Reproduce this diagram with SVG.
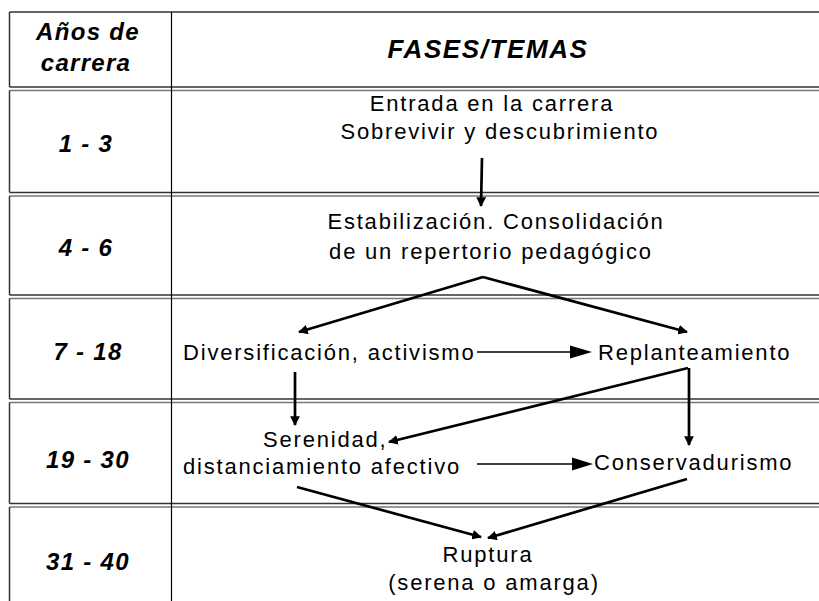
<svg xmlns="http://www.w3.org/2000/svg" width="819" height="601" viewBox="0 0 819 601">
<style>
.lab{font-family:"Liberation Sans",Arial,sans-serif;font-weight:bold;font-style:italic;font-size:24px;letter-spacing:1.3px;fill:#000;text-anchor:middle}
.hd{font-family:"Liberation Sans",Arial,sans-serif;font-weight:bold;font-style:italic;font-size:26px;letter-spacing:1.6px;fill:#000;text-anchor:middle}
.t{font-family:"Liberation Sans",Arial,sans-serif;font-size:22px;letter-spacing:1.8px;fill:#000}
.c{text-anchor:middle}
.b1{stroke:#333;stroke-width:1.5;fill:none}
.b2{stroke:#777;stroke-width:1.5;fill:none}
.a{stroke:#000;stroke-width:2.7;fill:none}
.h{stroke:#000;stroke-width:1.5;fill:none}
</style>
<defs>
<marker id="ah" viewBox="0 0 10 10" refX="9" refY="5" markerWidth="3.6" markerHeight="3.6" orient="auto" markerUnits="strokeWidth">
<path d="M0,0 L10,5 L0,10 z" fill="#000"/>
</marker>
</defs>
<g id="table">
<line class="b1" x1="9.5" y1="12" x2="819" y2="12"/>
<line class="b1" x1="9.5" y1="87" x2="819" y2="87"/>
<line class="b2" x1="9.5" y1="90.5" x2="819" y2="90.5"/>
<line class="b1" x1="9.5" y1="192.5" x2="819" y2="192.5"/>
<line class="b2" x1="9.5" y1="196" x2="819" y2="196"/>
<line class="b1" x1="9.5" y1="295" x2="819" y2="295"/>
<line class="b2" x1="9.5" y1="298.5" x2="819" y2="298.5"/>
<line class="b1" x1="9.5" y1="399" x2="819" y2="399"/>
<line class="b2" x1="9.5" y1="402.5" x2="819" y2="402.5"/>
<line class="b1" x1="9.5" y1="503.5" x2="819" y2="503.5"/>
<line class="b2" x1="9.5" y1="507" x2="819" y2="507"/>
<line class="b1" x1="9.5" y1="12" x2="9.5" y2="87"/>
<line class="b1" x1="9.5" y1="90.5" x2="9.5" y2="192.5"/>
<line class="b1" x1="9.5" y1="196" x2="9.5" y2="295"/>
<line class="b1" x1="9.5" y1="298.5" x2="9.5" y2="399"/>
<line class="b1" x1="9.5" y1="402.5" x2="9.5" y2="503.5"/>
<line class="b1" x1="9.5" y1="507" x2="9.5" y2="601"/>
<line stroke="#000" stroke-width="1.2" x1="171.5" y1="12" x2="171.5" y2="601"/>
</g>
<g id="header">
<text class="lab" x="88" y="40">Años de</text>
<text class="lab" x="86" y="71">carrera</text>
<text class="hd" x="488" y="58">FASES/TEMAS</text>
</g>
<g id="years">
<text class="lab" x="86" y="152">1 - 3</text>
<text class="lab" x="86" y="256">4 - 6</text>
<text class="lab" x="88" y="360">7 - 18</text>
<text class="lab" x="88" y="468">19 - 30</text>
<text class="lab" x="88" y="570">31 - 40</text>
</g>
<g id="n-entrada">
<text class="t c" x="492" y="111">Entrada en la carrera</text>
<text class="t c" x="500" y="139">Sobrevivir y descubrimiento</text>
</g>
<g id="n-estabilizacion">
<text class="t c" x="496" y="229">Estabilización. Consolidación</text>
<text class="t c" x="491" y="259">de un repertorio pedagógico</text>
</g>
<g id="n-diversificacion">
<text class="t" x="183" y="360">Diversificación, activismo</text>
</g>
<g id="n-replanteamiento">
<text class="t" x="598" y="360">Replanteamiento</text>
</g>
<g id="n-serenidad">
<text class="t" x="263" y="447">Serenidad,</text>
<text class="t" x="183" y="474">distanciamiento afectivo</text>
</g>
<g id="n-conservadurismo">
<text class="t" x="594" y="470">Conservadurismo</text>
</g>
<g id="n-ruptura">
<text class="t c" x="488" y="562">Ruptura</text>
<text class="t c" x="494" y="590">(serena o amarga)</text>
</g>
<g id="connectors">
<line class="a" x1="482" y1="158" x2="481" y2="206" marker-end="url(#ah)"/>
<line class="a" x1="483" y1="277" x2="687" y2="332" marker-end="url(#ah)"/>
<line class="a" x1="483" y1="277" x2="299" y2="332" marker-end="url(#ah)"/>
<line class="h" x1="477" y1="352" x2="572" y2="352"/>
<polygon points="570,345.5 592,352 570,358.5" fill="#000"/>
<line class="a" stroke-width="3" x1="295" y1="372" x2="295" y2="425" marker-end="url(#ah)"/>
<line class="a" stroke-width="3" x1="689" y1="368" x2="689" y2="445" marker-end="url(#ah)"/>
<line class="a" x1="688" y1="368" x2="389" y2="442" marker-end="url(#ah)"/>
<line class="h" x1="477" y1="464" x2="574" y2="464"/>
<polygon points="572,457.5 593,464 572,470.5" fill="#000"/>
<line class="a" x1="297" y1="487" x2="481" y2="537" marker-end="url(#ah)"/>
<line class="a" x1="687" y1="479" x2="488" y2="538" marker-end="url(#ah)"/>
</g>
</svg>
